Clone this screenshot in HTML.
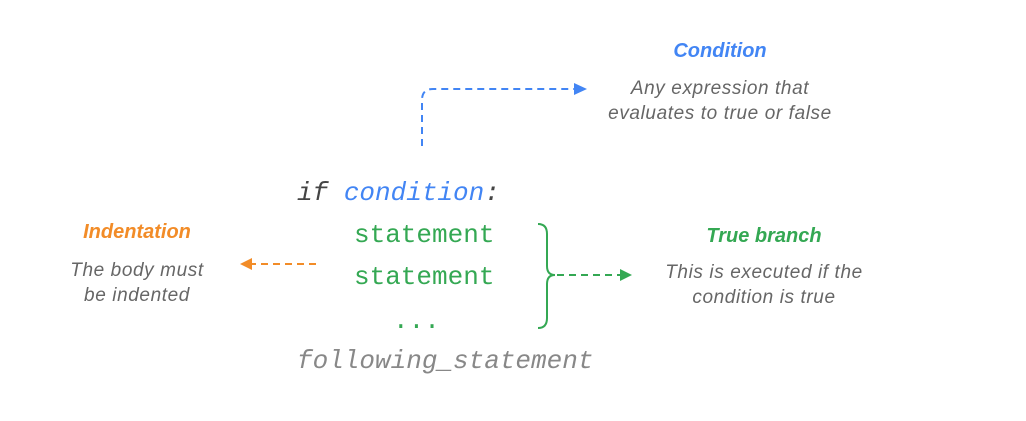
<!DOCTYPE html>
<html><head><meta charset="utf-8"><style>
html,body{margin:0;padding:0;background:#fff;}
svg{display:block}
.m{font-family:"Liberation Mono",monospace;font-size:26px;}
.i{font-style:italic}
.t{font-family:"Liberation Sans",sans-serif;font-style:italic;font-weight:bold;font-size:20px;text-anchor:middle}
.d{font-family:"Liberation Sans",sans-serif;font-style:italic;font-size:19px;letter-spacing:0.6px;fill:#666;text-anchor:middle}
</style></head><body>
<svg width="1026" height="421" viewBox="0 0 1026 421" xmlns="http://www.w3.org/2000/svg">
<text class="t" x="720" y="57" fill="#4285f4">Condition</text>
<text class="d" x="720" y="94">Any expression that</text>
<text class="d" x="720" y="119">evaluates to true or false</text>
<path d="M422 146 V100 Q422 89 433 89 H574" fill="none" stroke="#4285f4" stroke-width="2" stroke-dasharray="7,5"/>
<polygon points="574,83 587,89 574,95" fill="#4285f4"/>

<text class="m i" x="297" y="200"><tspan fill="#444">if </tspan><tspan fill="#4285f4">condition</tspan><tspan fill="#444">:</tspan></text>
<text class="m" x="354" y="242" fill="#34a853">statement</text>
<text class="m" x="354" y="284" fill="#34a853">statement</text>
<text class="m" x="393" y="328" fill="#34a853">...</text>
<text class="m i" x="297" y="368" fill="#888">following_statement</text>

<text class="t" x="137" y="238" fill="#f28c28">Indentation</text>
<text class="d" x="137" y="276">The body must</text>
<text class="d" x="137" y="301">be indented</text>
<path d="M316 264 H252" fill="none" stroke="#f28c28" stroke-width="2" stroke-dasharray="7,5"/>
<polygon points="252,258 240,264 252,270" fill="#f28c28"/>

<path d="M538 224 Q547 224 547 234 V266 Q547 275 555 275 Q547 275 547 284 V318 Q547 328 538 328" fill="none" stroke="#34a853" stroke-width="2"/>
<path d="M557 275 H620" fill="none" stroke="#34a853" stroke-width="2" stroke-dasharray="7,5"/>
<polygon points="620,269 632,275 620,281" fill="#34a853"/>
<text class="t" x="764" y="242" fill="#34a853">True branch</text>
<text class="d" x="764" y="278">This is executed if the</text>
<text class="d" x="764" y="303">condition is true</text>
</svg>
</body></html>
